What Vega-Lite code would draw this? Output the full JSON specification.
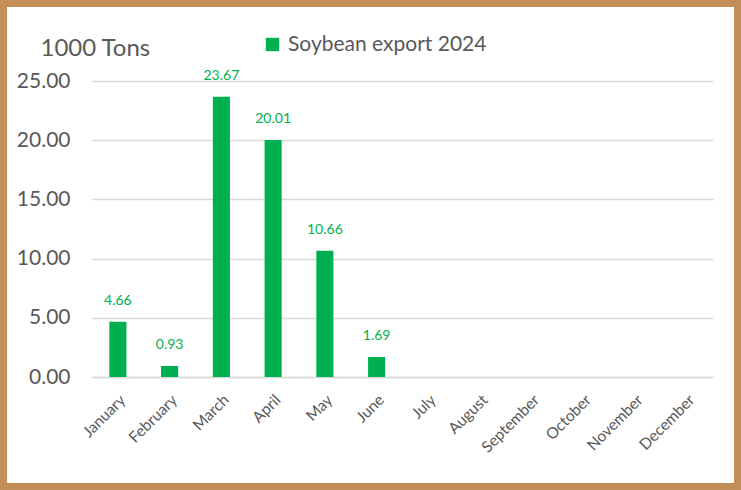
{
  "$schema": "https://vega.github.io/schema/vega-lite/v6.json",
  "width": 741,
  "height": 490,
  "autosize": {"type": "none"},
  "padding": 0,
  "background": "white",
  "config": {
    "font": "Lato",
    "view": {"stroke": "#c48e58", "strokeWidth": 14, "fill": "white"}
  },
  "data": {
    "values": [
      {"month": "January", "value": 4.66, "series": "Soybean export 2024"},
      {"month": "February", "value": 0.93, "series": "Soybean export 2024"},
      {"month": "March", "value": 23.67, "series": "Soybean export 2024"},
      {"month": "April", "value": 20.01, "series": "Soybean export 2024"},
      {"month": "May", "value": 10.66, "series": "Soybean export 2024"},
      {"month": "June", "value": 1.69, "series": "Soybean export 2024"},
      {"month": "July", "value": null, "series": "Soybean export 2024"},
      {"month": "August", "value": null, "series": "Soybean export 2024"},
      {"month": "September", "value": null, "series": "Soybean export 2024"},
      {"month": "October", "value": null, "series": "Soybean export 2024"},
      {"month": "November", "value": null, "series": "Soybean export 2024"},
      {"month": "December", "value": null, "series": "Soybean export 2024"}
    ]
  },
  "encoding": {
    "x": {
      "field": "month",
      "type": "nominal",
      "sort": null,
      "scale": {
        "domain": ["January", "February", "March", "April", "May", "June", "July", "August", "September", "October", "November", "December"],
        "range": [92, 713],
        "paddingInner": 0.67,
        "paddingOuter": 0.335
      },
      "axis": {
        "title": null,
        "labelAngle": -45,
        "labelAlign": "right",
        "labelBaseline": "top",
        "labelPadding": 15,
        "labelFontSize": 15.5,
        "labelColor": "#595959",
        "labelOverlap": false,
        "ticks": false,
        "domain": true,
        "domainColor": "#d9d9d9",
        "domainWidth": 1.5,
        "grid": false,
        "offset": -113
      }
    },
    "y": {
      "field": "value",
      "type": "quantitative",
      "scale": {"domain": [0, 25], "range": [377, 81], "nice": false, "zero": false},
      "axis": {
        "values": [0, 5, 10, 15, 20, 25],
        "format": ".2f",
        "offset": -92,
        "labelPadding": 22,
        "labelFontSize": 21,
        "labelColor": "#595959",
        "ticks": false,
        "domain": false,
        "grid": true,
        "gridColor": "#d9d9d9",
        "gridWidth": 1.5,
        "title": "1000 Tons",
        "titleAngle": 0,
        "titleX": -52,
        "titleY": 55,
        "titleAlign": "left",
        "titleBaseline": "alphabetic",
        "titleFontSize": 24,
        "titleFontWeight": "normal",
        "titleColor": "#595959"
      }
    }
  },
  "layer": [
    {
      "mark": {"type": "bar"},
      "encoding": {
        "color": {
          "field": "series",
          "type": "nominal",
          "scale": {"range": ["#00b050"]},
          "legend": {
            "title": null,
            "orient": "none",
            "legendX": 262,
            "legendY": 34,
            "symbolType": "square",
            "symbolSize": 180,
            "symbolStrokeWidth": 0,
            "labelFontSize": 21,
            "labelColor": "#595959",
            "labelOffset": 5,
            "labelLimit": 0
          }
        }
      }
    },
    {
      "mark": {"type": "text", "dy": -21, "fontSize": 14, "color": "#00b050"},
      "encoding": {
        "text": {"field": "value", "type": "quantitative", "format": ".2f"}
      }
    }
  ]
}
